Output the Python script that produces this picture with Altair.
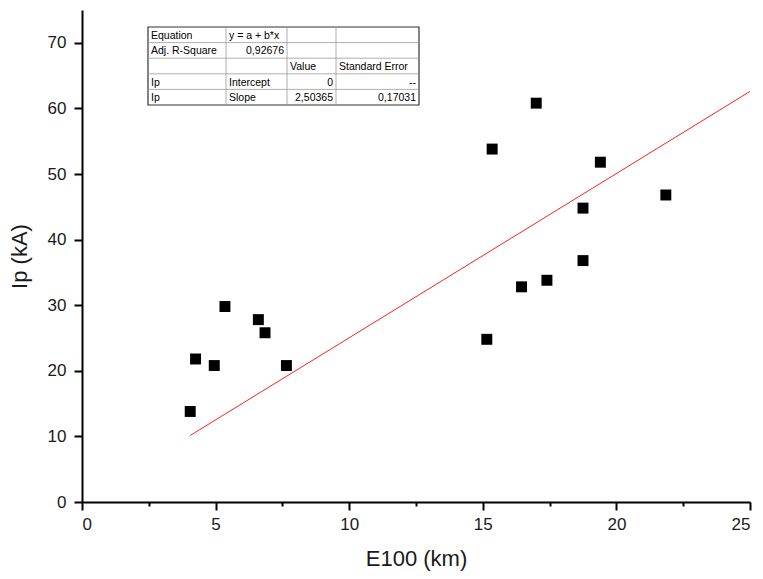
import altair as alt
import pandas as pd

# ---- data ----
e100 = [4.05, 4.25, 4.95, 5.35, 6.6, 6.85, 7.65, 15.15, 15.35, 17.0, 16.45, 17.4, 19.4, 18.75, 18.75, 21.85]
ip = [13.8, 21.8, 20.8, 29.8, 27.8, 25.8, 20.8, 24.8, 53.8, 60.8, 32.8, 33.8, 51.8, 44.8, 36.8, 46.8]
slope = 2.50365
fit_x_end = 25

# table contents (row by row)
col1 = ["Equation", "Adj. R-Square", "", "Ip", "Ip"]
col2 = ["y = a + b*x", "0,92676", "", "Intercept", "Slope"]
col3 = ["", "", "Value", "0", "2,50365"]
col4 = ["", "", "Standard Error", "--", "0,17031"]

x_ticks = [0, 2.5, 5, 7.5, 10, 12.5, 15, 17.5, 20, 22.5, 25]
y_ticks = [0, 5, 10, 15, 20, 25, 30, 35, 40, 45, 50, 55, 60, 65, 70, 75]

# ---- layout ----
W, H = 668, 492
FONT = "Liberation Sans"

pts = pd.DataFrame({"x": e100, "y": ip})
fit = pd.DataFrame({"x": [min(e100), fit_x_end]})
fit["y"] = fit["x"] * slope

xscale = alt.Scale(domain=[0, 25], nice=False, zero=False)
yscale = alt.Scale(domain=[0, 75], nice=False, zero=False)

xaxis = alt.Axis(
    values=x_ticks,
    labelExpr="datum.value % 5 === 0 ? datum.label : ''",
    tickSize=alt.condition("datum.value % 5 === 0", alt.value(8), alt.value(4)),
    title="E100 (km)", titlePadding=16, labelPadding=6,
)
yaxis = alt.Axis(
    values=y_ticks,
    labelExpr="datum.value % 10 === 0 && datum.value < 75 ? datum.label : ''",
    tickSize=alt.condition("datum.value % 10 === 0", alt.value(8), alt.value(4)),
    title="Ip (kA)", titlePadding=16, labelPadding=8,
)

points = alt.Chart(pts).mark_square(size=120, color="black", opacity=1, filled=True).encode(
    x=alt.X("x:Q", scale=xscale, axis=xaxis),
    y=alt.Y("y:Q", scale=yscale, axis=yaxis),
)

line = alt.Chart(fit).mark_line(color="#ff2020", strokeWidth=1).encode(
    x=alt.X("x:Q", scale=xscale),
    y=alt.Y("y:Q", scale=yscale),
)

# table geometry in pixels relative to the plot area
tx0, ty0 = 66, 17
col_edges = [0, 78, 139, 188, 271]
row_h = 15.6
n_rows = 5

aligns = [
    ["left", "left", "left", "left"],
    ["left", "right", "left", "left"],
    ["left", "left", "left", "left"],
    ["left", "left", "right", "right"],
    ["left", "left", "right", "right"],
]
cols = [col1, col2, col3, col4]
cells = []
for r in range(n_rows):
    for c in range(4):
        txt = cols[c][r]
        if not txt:
            continue
        al = aligns[r][c]
        if al == "left":
            px = tx0 + col_edges[c] + 3
        else:
            px = tx0 + col_edges[c + 1] - 3
        cells.append({"px": px, "py": ty0 + row_h * (r + 0.5) + 1, "t": txt, "al": al})
cells_df = pd.DataFrame(cells)

tab_left = alt.Chart(cells_df[cells_df.al == "left"]).mark_text(
    align="left", baseline="middle", font=FONT, fontSize=10.5, color="black"
).encode(x=alt.X("px:Q", scale=None), y=alt.Y("py:Q", scale=None), text="t:N")
tab_right = alt.Chart(cells_df[cells_df.al == "right"]).mark_text(
    align="right", baseline="middle", font=FONT, fontSize=10.5, color="black"
).encode(x=alt.X("px:Q", scale=None), y=alt.Y("py:Q", scale=None), text="t:N")

hl = pd.DataFrame({"x1": [tx0] * (n_rows - 1), "x2": [tx0 + col_edges[-1]] * (n_rows - 1),
                   "yy": [ty0 + row_h * (i + 1) for i in range(n_rows - 1)]})
vl = pd.DataFrame({"xx": [tx0 + e for e in col_edges[1:-1]],
                   "y1": [ty0] * 3, "y2": [ty0 + row_h * n_rows] * 3})
hrules = alt.Chart(hl).mark_rule(color="#9a9a9a", strokeWidth=0.8).encode(
    x=alt.X("x1:Q", scale=None), x2="x2:Q", y=alt.Y("yy:Q", scale=None))
vrules = alt.Chart(vl).mark_rule(color="#9a9a9a", strokeWidth=0.8).encode(
    x=alt.X("xx:Q", scale=None), y=alt.Y("y1:Q", scale=None), y2="y2:Q")
box = alt.Chart(pd.DataFrame({"a": [tx0], "b": [tx0 + col_edges[-1]], "c": [ty0], "d": [ty0 + row_h * n_rows]})).mark_rect(
    fill="white", stroke="#333333", strokeWidth=1.2).encode(
    x=alt.X("a:Q", scale=None), x2="b:Q", y=alt.Y("c:Q", scale=None), y2="d:Q")

chart = alt.layer(line, points, box, hrules, vrules, tab_left, tab_right).properties(
    width=W, height=H,
    autosize=alt.AutoSizeParams(type="none"),
    padding={"left": 74, "top": 2, "right": 5, "bottom": 76},
).configure_view(stroke=None).configure_axis(
    grid=False, domainColor="black", domainWidth=2, tickColor="black", tickWidth=2,
    labelFont=FONT, labelFontSize=17, labelColor="#1a1a1a",
    titleFont=FONT, titleFontSize=22, titleFontWeight="normal", titleColor="#1a1a1a",
)

chart.save("out.html", embed_options={"renderer": "svg", "actions": False})
